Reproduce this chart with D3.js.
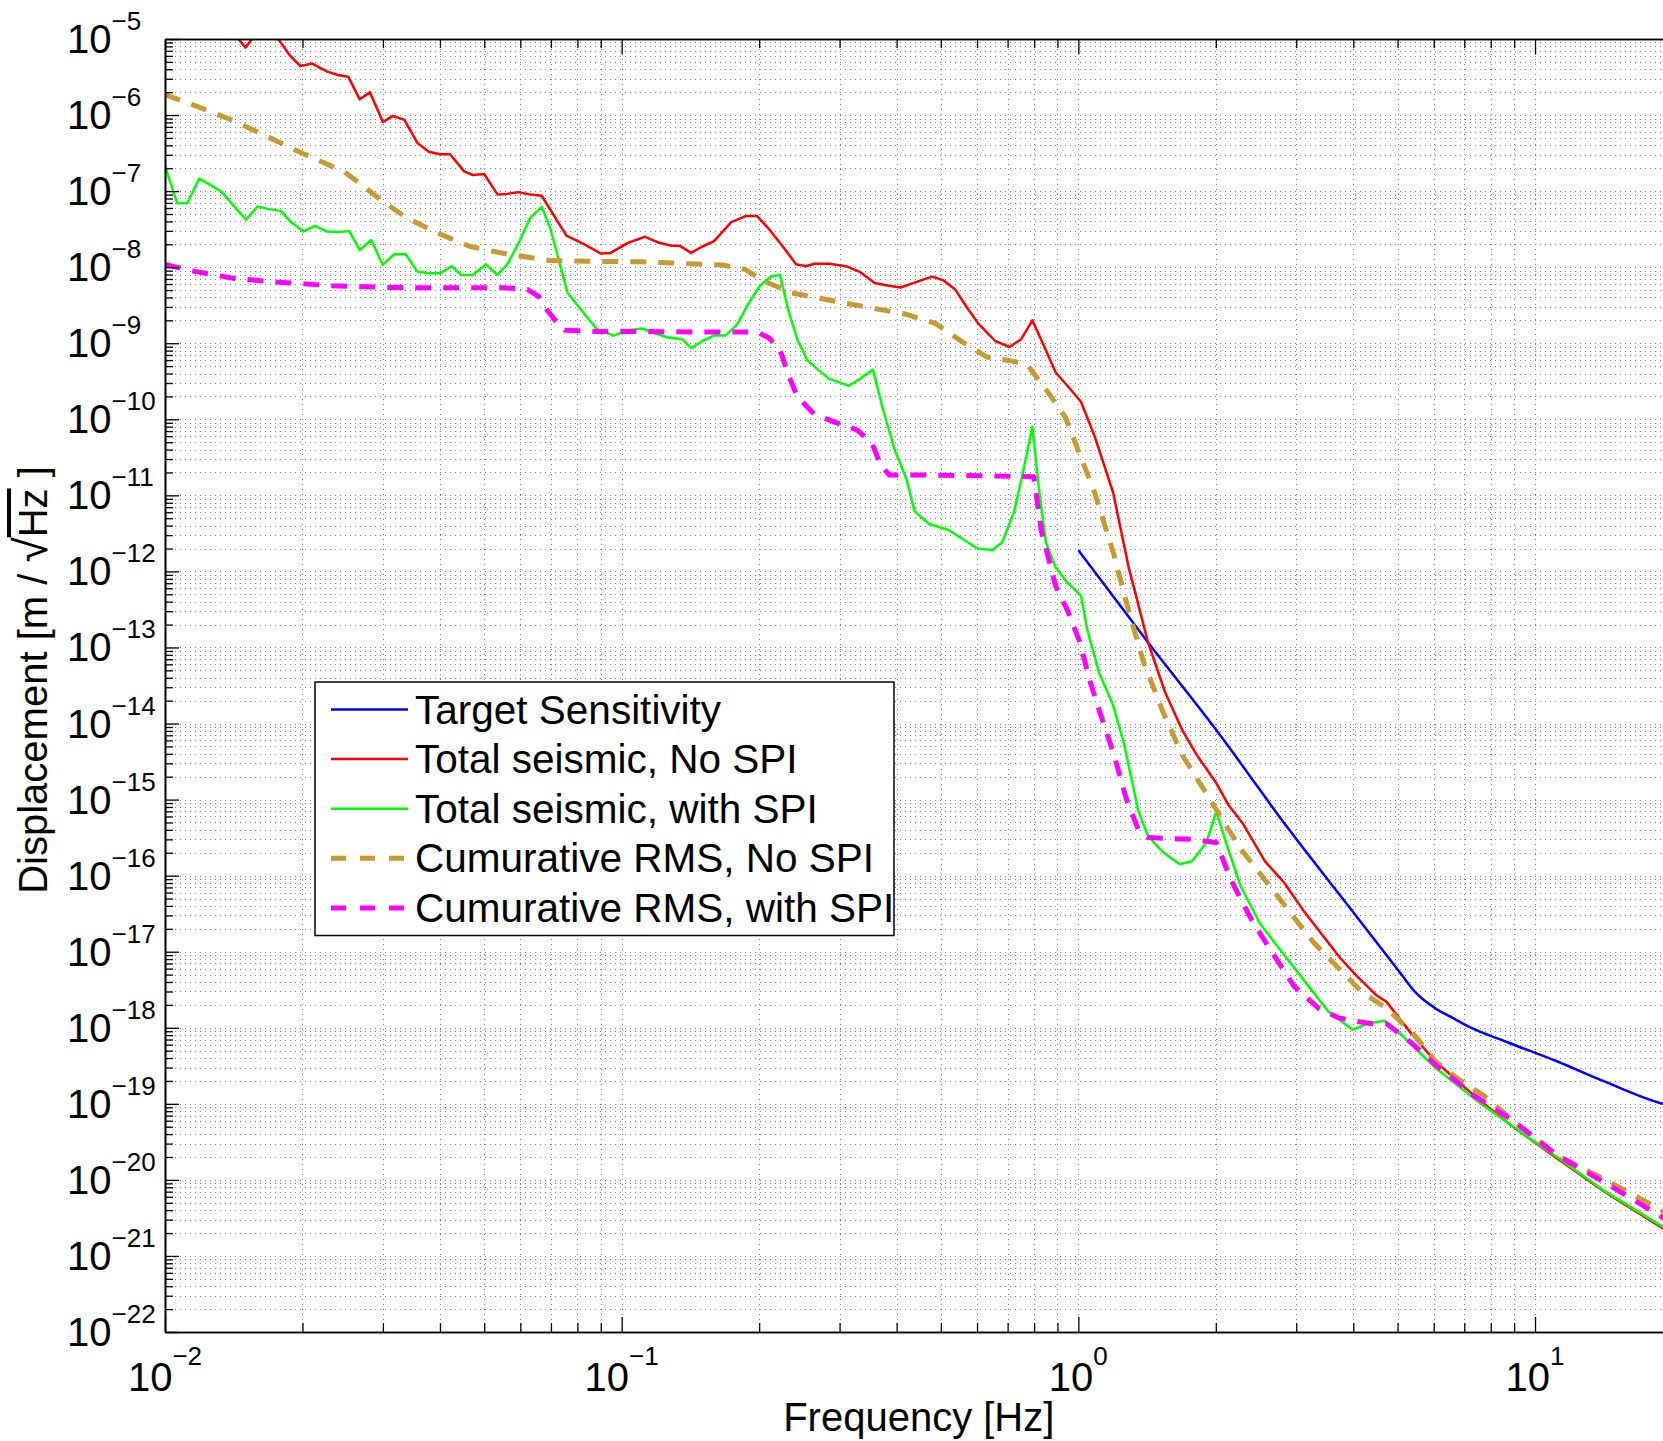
<!DOCTYPE html>
<html><head><meta charset="utf-8">
<script src="https://cdn.jsdelivr.net/npm/d3@7"></script>
<style>
body{margin:0;background:#fff}
svg{display:block}
text{font-family:"Liberation Sans",Arial,Helvetica,sans-serif;fill:#000}
</style>
</head><body>
<svg id="chart" width="1663" height="1441"></svg>
<script>
// ---------- data (frequency [Hz], displacement [m/sqrt(Hz)]) ----------
const xDomain = [0.01, 20];
const yDomain = [1e-22, 1e-5];
const xMajorTicks = [0.01, 0.1, 1, 10];
const yMajorTicks = [1e-5,1e-6,1e-7,1e-8,1e-9,1e-10,1e-11,1e-12,1e-13,1e-14,1e-15,1e-16,1e-17,1e-18,1e-19,1e-20,1e-21,1e-22];
const xLabel = "Frequency [Hz]";
const seriesNames = ["Target Sensitivity","Total seismic, No SPI","Total seismic, with SPI","Cumurative RMS, No SPI","Cumurative RMS, with SPI"];

const targetSensitivity = [[1,1.9e-12],[1.4214,1.16e-13],[2.0045,8.2e-15],[2.896,4.0e-16],[4.0,3.3e-17],[4.731,9.0e-18],[5.1,5.0e-18],[5.48,2.9e-18],[6.045,1.81e-18],[6.6,1.35e-18],[7.18,1.03e-18],[8.735,6.4e-19],[11.16,3.63e-19],[14.27,1.94e-19],[19.06,1.0e-19],[20,9.3e-20]];

const totalNoSPI = [[0.0100,5.0e-5],[0.0125,3.0e-5],[0.0140,1.3e-5],[0.0150,7.7e-6],[0.0158,1.15e-5],[0.0166,1.08e-5],[0.0177,1.0e-5],[0.0188,6.0e-6],[0.0198,4.41e-6],[0.0210,4.75e-6],[0.0226,3.75e-6],[0.0239,3.36e-6],[0.0252,3.18e-6],[0.0267,1.61e-6],[0.0281,2.0e-6],[0.0300,8.1e-7],[0.0315,9.7e-7],[0.0334,8.7e-7],[0.0357,4.3e-7],[0.0378,3.3e-7],[0.0400,3.05e-7],[0.0421,3.05e-7],[0.0452,1.82e-7],[0.0472,1.63e-7],[0.0500,1.68e-7],[0.0535,9.0e-8],[0.0562,9.2e-8],[0.0595,9.7e-8],[0.0631,9.0e-8],[0.0668,8.7e-8],[0.0757,2.6e-8],[0.0831,1.98e-8],[0.0901,1.51e-8],[0.0946,1.54e-8],[0.1032,2.09e-8],[0.1125,2.51e-8],[0.1210,2.09e-8],[0.1282,1.92e-8],[0.1339,1.92e-8],[0.1419,1.54e-8],[0.1503,1.87e-8],[0.1593,2.2e-8],[0.1738,3.91e-8],[0.1867,4.7e-8],[0.1979,4.7e-8],[0.2097,3.22e-8],[0.2254,1.87e-8],[0.2409,1.09e-8],[0.2531,1.03e-8],[0.2643,1.11e-8],[0.2841,1.11e-8],[0.3099,1.03e-8],[0.3332,8.6e-9],[0.3581,6.2e-9],[0.3851,5.7e-9],[0.4080,5.4e-9],[0.4425,6.4e-9],[0.4785,7.5e-9],[0.5070,6.7e-9],[0.5373,5.1e-9],[0.5692,3.0e-9],[0.6033,1.83e-9],[0.6577,1.07e-9],[0.7072,8.9e-10],[0.7494,1.13e-9],[0.7930,2.0e-9],[0.8414,9.1e-10],[0.8920,4.12e-10],[0.9484,2.72e-10],[1.0134,1.7e-10],[1.0854,6.0e-11],[1.1915,1.09e-11],[1.2889,1.13e-12],[1.4214,1.16e-13],[1.5496,2.56e-14],[1.6882,8.2e-15],[1.8166,3.86e-15],[2.0045,1.65e-15],[2.1315,8.5e-16],[2.2942,4.8e-16],[2.5615,1.55e-16],[2.8266,8.0e-17],[3.118,3.4e-17],[3.4393,1.6e-17],[3.7479,8.2e-18],[4.0832,4.7e-18],[4.5037,2.65e-18],[4.731,2.19e-18],[5.349,8.5e-19],[6.045,3.63e-19],[7.357,1.28e-19],[8.953,4.98e-20],[11.16,1.93e-20],[14.27,6.83e-21],[19.06,2.3e-21],[20,1.95e-21]];

const totalWithSPI = [[0.0100,2.13e-7],[0.01064,6.9e-8],[0.0112,7.0e-8],[0.01188,1.46e-7],[0.01265,1.18e-7],[0.01333,9.7e-8],[0.01421,6.2e-8],[0.01505,4.2e-8],[0.01595,6.3e-8],[0.0169,5.8e-8],[0.01791,5.5e-8],[0.01898,3.8e-8],[0.0201,2.95e-8],[0.02131,3.5e-8],[0.02258,2.95e-8],[0.02392,2.89e-8],[0.02534,2.98e-8],[0.0267,1.68e-8],[0.02829,2.28e-8],[0.02998,1.07e-8],[0.03176,1.48e-8],[0.03365,1.48e-8],[0.03566,8.8e-9],[0.03779,8.3e-9],[0.04004,8.3e-9],[0.04242,1.03e-8],[0.04457,7.9e-9],[0.04722,7.9e-9],[0.05045,1.09e-8],[0.05346,7.9e-9],[0.05618,1.09e-8],[0.05952,2.09e-8],[0.06307,4.45e-8],[0.06683,6.2e-8],[0.06982,3.2e-8],[0.07291,1.22e-8],[0.07613,4.6e-9],[0.08185,2.68e-9],[0.088,1.56e-9],[0.09598,1.26e-9],[0.1032,1.48e-9],[0.1109,1.56e-9],[0.1192,1.33e-9],[0.1263,1.19e-9],[0.1358,1.13e-9],[0.1419,8.6e-10],[0.1503,1.07e-9],[0.1593,1.26e-9],[0.1688,1.26e-9],[0.1788,1.74e-9],[0.1895,3.32e-9],[0.2008,5.7e-9],[0.2128,7.6e-9],[0.2222,7.9e-9],[0.2319,2.68e-9],[0.2423,1.13e-9],[0.2553,5.9e-10],[0.2841,3.43e-10],[0.3145,2.76e-10],[0.3332,3.43e-10],[0.355,4.5e-10],[0.3741,1.3e-10],[0.3963,3.95e-11],[0.42,1.66e-11],[0.4379,6.2e-12],[0.4714,4.2e-12],[0.5198,3.5e-12],[0.6024,1.99e-12],[0.6484,1.91e-12],[0.6808,2.4e-12],[0.724,6.2e-12],[0.7551,1.92e-11],[0.793,8.0e-11],[0.8186,1.32e-11],[0.8492,2.4e-12],[0.892,1.13e-12],[0.9484,7.0e-13],[1.0134,4.8e-13],[1.0462,1.7e-13],[1.1124,4.5e-14],[1.1915,1.75e-14],[1.2574,5.6e-15],[1.3537,7.0e-16],[1.4214,3.3e-16],[1.5301,2.05e-16],[1.6672,1.41e-16],[1.7733,1.55e-16],[1.9085,2.73e-16],[2.0045,7.0e-16],[2.1053,2.73e-16],[2.2665,7.3e-17],[2.5003,2.33e-17],[2.8266,9.0e-18],[3.1951,3.5e-18],[3.5237,1.65e-18],[3.9838,9.4e-19],[4.2887,1.13e-18],[4.673,1.24e-18],[4.9683,9.4e-19],[5.4803,5.3e-19],[6.045,3.0e-19],[7.357,1.17e-19],[8.953,4.98e-20],[11.16,2.0e-20],[14.27,7.0e-21],[19.06,2.4e-21],[20,2.05e-21]];

const rmsNoSPI = [[0.01,1.86e-6],[0.0116,1.34e-6],[0.01421,8.3e-7],[0.01595,6.0e-7],[0.0201,3.1e-7],[0.02462,1.82e-7],[0.02685,1.24e-7],[0.02972,7.6e-8],[0.03385,4.45e-8],[0.03913,2.89e-8],[0.04655,1.87e-8],[0.05537,1.51e-8],[0.06982,1.22e-8],[0.088,1.19e-8],[0.1109,1.18e-8],[0.1398,1.11e-8],[0.1663,1.07e-8],[0.1867,9.3e-9],[0.2037,6.7e-9],[0.2354,4.6e-9],[0.3145,3.3e-9],[0.42,2.4e-9],[0.4857,1.83e-9],[0.5611,1.01e-9],[0.63,6.6e-10],[0.7072,5.9e-10],[0.7714,5.3e-10],[0.8492,2.47e-10],[0.9369,1.06e-10],[1.0083,3.4e-11],[1.0854,1.09e-11],[1.197,1.64e-12],[1.2889,3.0e-13],[1.3875,6.6e-14],[1.5301,1.45e-14],[1.6882,3.86e-15],[1.8621,1.5e-15],[2.0539,5.8e-16],[2.2665,2.26e-16],[2.5615,8.8e-17],[2.896,3.4e-17],[3.274,1.32e-17],[3.702,6.2e-18],[4.184,2.91e-18],[4.731,1.81e-18],[5.48,7.7e-19],[6.045,3.63e-19],[6.833,2.06e-19],[7.727,1.28e-19],[8.953,6.0e-20],[11.16,2.12e-20],[14.27,1.0e-20],[19.06,3.9e-21],[20,3.3e-21]];

const rmsWithSPI = [[0.01,1.09e-8],[0.0116,8.8e-9],[0.01421,7.1e-9],[0.01742,6.4e-9],[0.02324,5.7e-9],[0.03086,5.4e-9],[0.04098,5.35e-9],[0.05537,5.35e-9],[0.06216,5.1e-9],[0.06587,4.1e-9],[0.0688,2.68e-9],[0.07187,1.94e-9],[0.07503,1.48e-9],[0.088,1.43e-9],[0.1109,1.43e-9],[0.1482,1.4e-9],[0.1979,1.4e-9],[0.2097,1.19e-9],[0.2222,8.2e-10],[0.2319,3.8e-10],[0.2423,2.0e-10],[0.2643,1.16e-10],[0.2968,8.9e-11],[0.3282,7.2e-11],[0.353,4.9e-11],[0.3687,2.56e-11],[0.3851,1.85e-11],[0.4581,1.85e-11],[0.6484,1.8e-11],[0.7991,1.75e-11],[0.8289,3.5e-12],[0.892,6.4e-13],[0.9484,3.0e-13],[1.0083,1.16e-13],[1.059,3.7e-14],[1.1124,1.45e-14],[1.197,3.86e-15],[1.2733,1.03e-15],[1.3537,4.0e-16],[1.4214,3.17e-16],[1.7733,3.0e-16],[2.0045,2.73e-16],[2.1578,8.8e-17],[2.3795,2.82e-17],[2.6255,1.09e-17],[2.9687,3.5e-18],[3.3557,1.81e-18],[3.702,1.36e-18],[3.984,1.24e-18],[4.395,1.13e-18],[4.731,1.13e-18],[5.349,6.4e-19],[6.045,3.3e-19],[7.357,1.28e-19],[8.953,6.0e-20],[11.16,2.12e-20],[14.27,9.1e-21],[19.06,3.2e-21],[20,2.75e-21]];

const seriesColors = ["#0000ff","#ff0000","#00ff00","#c89a32","#ff00ff"];

// ---------- layout ----------
const W = 1663, H = 1441;
const P = {left:165, right:1672.5, top:39, bottom:1332};
const x = d3.scaleLog().domain(xDomain).range([P.left, P.right]);
const y = d3.scaleLog().domain(yDomain).range([P.bottom, P.top]);

const svg = d3.select("#chart");
svg.append("rect").attr("width",W).attr("height",H).attr("fill","#fff");
svg.append("defs").append("clipPath").attr("id","clip")
  .append("rect").attr("x",P.left).attr("y",P.top).attr("width",P.right-P.left).attr("height",P.bottom-P.top);

// ---------- grid ----------
const xAll = x.ticks();
const yAll = y.ticks(40);
const grid = svg.append("g").attr("clip-path","url(#clip)")
  .attr("stroke","#222").attr("stroke-width",1).attr("stroke-dasharray","1 4").attr("opacity",0.55);
grid.selectAll("line.gx").data(xAll).join("line").attr("class","gx")
  .attr("x1",d=>Math.round(x(d))+0.5).attr("x2",d=>Math.round(x(d))+0.5)
  .attr("y1",P.top).attr("y2",P.bottom);
grid.selectAll("line.gy").data(yAll).join("line").attr("class","gy")
  .attr("y1",d=>Math.round(y(d))+0.5).attr("y2",d=>Math.round(y(d))+0.5)
  .attr("x1",P.left).attr("x2",P.right);

// ---------- series ----------
const line = d3.line().x(d=>x(d[0])).y(d=>y(d[1]));
const lineSmooth = d3.line().x(d=>x(d[0])).y(d=>y(d[1])).curve(d3.curveMonotoneX);
const series = [
  {data:targetSensitivity, color:seriesColors[0], w:2.5, dash:null, gen:lineSmooth},
  {data:totalNoSPI, color:seriesColors[1], w:2.5, dash:null, gen:line},
  {data:totalWithSPI, color:seriesColors[2], w:2.5, dash:null, gen:line},
  {data:rmsNoSPI, color:seriesColors[3], w:5, dash:"16 12", gen:line},
  {data:rmsWithSPI, color:seriesColors[4], w:5, dash:"16 12", gen:line}
];
const lines = svg.append("g").attr("clip-path","url(#clip)");
series.forEach(s=>{
  lines.append("path").attr("d",s.gen(s.data)).attr("fill","none")
    .attr("stroke",s.color).attr("stroke-width",s.w)
    .attr("stroke-linejoin","round")
    .attr("stroke-dasharray",s.dash);
});

// ---------- axes (ticks inside) ----------
const xMinor = xAll.filter(v=>!xMajorTicks.some(m=>Math.abs(m-v)/m<1e-9));
const yMinor = yAll.filter(v=>!yMajorTicks.some(m=>Math.abs(m-v)/m<1e-9));
function styleAxis(g){ g.selectAll("path.domain").attr("stroke","#000").attr("stroke-width",1.6);
  g.selectAll(".tick line").attr("stroke","#000").attr("stroke-width",1.3); g.selectAll("text").remove(); }
const mk = (axisFn, scale, vals, size) => axisFn(scale).tickValues(vals).tickSizeInner(size).tickSizeOuter(0).tickFormat("");
svg.append("g").attr("transform",`translate(0,${P.bottom})`).call(mk(d3.axisBottom,x,xMinor,-9)).call(styleAxis);
svg.append("g").attr("transform",`translate(0,${P.bottom})`).call(mk(d3.axisBottom,x,xMajorTicks,-15)).call(styleAxis);
svg.append("g").attr("transform",`translate(0,${P.top})`).call(mk(d3.axisTop,x,xMinor,-9)).call(styleAxis);
svg.append("g").attr("transform",`translate(0,${P.top})`).call(mk(d3.axisTop,x,xMajorTicks,-15)).call(styleAxis);
svg.append("g").attr("transform",`translate(${P.left},0)`).call(mk(d3.axisLeft,y,yMinor,-8)).call(styleAxis);
svg.append("g").attr("transform",`translate(${P.left},0)`).call(mk(d3.axisLeft,y,yMajorTicks,-14)).call(styleAxis);

// ---------- tick labels ----------
const expOf = v => Math.round(Math.log10(v));
const supText = e => (e<0 ? "\u2212" : "") + Math.abs(e);
svg.append("g").selectAll("text").data(xMajorTicks).join("text")
  .attr("x",d=>x(d)).attr("y",P.bottom+59).attr("text-anchor","middle").attr("font-size",40)
  .each(function(d){ const t=d3.select(this); t.append("tspan").text("10");
    t.append("tspan").attr("dy",-26).attr("font-size",26).text(supText(expOf(d))); });
svg.append("g").selectAll("text").data(yMajorTicks).join("text")
  .attr("x",67).attr("y",d=>y(d)+14).attr("text-anchor","start").attr("font-size",40)
  .each(function(d){ const t=d3.select(this); t.append("tspan").text("10");
    t.append("tspan").attr("dy",-23).attr("font-size",26).text(supText(expOf(d))); });

// ---------- axis titles ----------
svg.append("text").attr("x",(P.left+P.right)/2).attr("y",1431).attr("text-anchor","middle")
  .attr("font-size",40).text(xLabel);
const yt = svg.append("text").attr("transform",`translate(47,680) rotate(-90)`)
  .attr("text-anchor","middle").attr("font-size",40);
yt.append("tspan").text("Displacement [m / ");
yt.append("tspan").attr("font-size",46).text("\u221A");
yt.append("tspan").style("text-decoration","overline").text("Hz");
yt.append("tspan").text(" ]");

// ---------- legend ----------
const L = {x:315, y:682, w:579, h:253.5, row0:709.5, dy:49.6};
const lg = svg.append("g");
lg.append("rect").attr("x",L.x).attr("y",L.y).attr("width",L.w).attr("height",L.h)
  .attr("fill","#fff").attr("stroke","#000").attr("stroke-width",1.5);
series.forEach((s,i)=>{
  const cy = L.row0 + i*L.dy;
  lg.append("line").attr("x1",331).attr("x2",408).attr("y1",cy).attr("y2",cy)
    .attr("stroke",s.color).attr("stroke-width",s.w).attr("stroke-dasharray",s.dash ? "15 14" : null);
  lg.append("text").attr("x",415).attr("y",cy+14).attr("font-size",40.5).text(seriesNames[i]);
});
</script>
</body></html>
